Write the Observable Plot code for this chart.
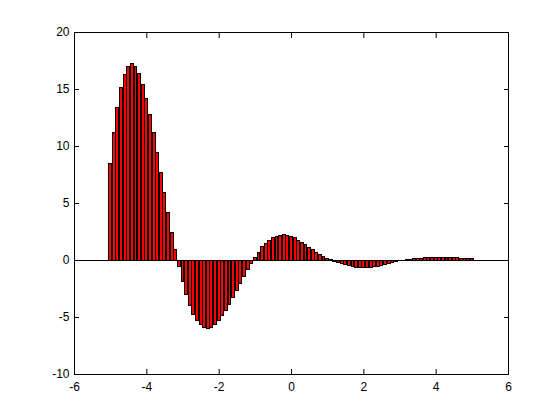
<!DOCTYPE html>
<html>
<head>
<meta charset="utf-8">
<script src="https://cdn.jsdelivr.net/npm/d3@7"></script>
<script src="https://cdn.jsdelivr.net/npm/@observablehq/plot@0.6"></script>
<style>
  html, body { margin: 0; padding: 0; background: #fff; }
  svg { display: block; }
</style>
</head>
<body>
<div id="chart"></div>
<script>
const xs = [
  -5.0, -4.9, -4.8, -4.7, -4.6, -4.5, -4.4, -4.3, -4.2, -4.1,
  -4.0, -3.9, -3.8, -3.7, -3.6, -3.5, -3.4, -3.3, -3.2, -3.1,
  -3.0, -2.9, -2.8, -2.7, -2.6, -2.5, -2.4, -2.3, -2.2, -2.1,
  -2.0, -1.9, -1.8, -1.7, -1.6, -1.5, -1.4, -1.3, -1.2, -1.1,
  -1.0, -0.9, -0.8, -0.7, -0.6, -0.5, -0.4, -0.3, -0.2, -0.1,
   0.0,  0.1,  0.2,  0.3,  0.4,  0.5,  0.6,  0.7,  0.8,  0.9,
   1.0,  1.1,  1.2,  1.3,  1.4,  1.5,  1.6,  1.7,  1.8,  1.9,
   2.0,  2.1,  2.2,  2.3,  2.4,  2.5,  2.6,  2.7,  2.8,  2.9,
   3.0,  3.1,  3.2,  3.3,  3.4,  3.5,  3.6,  3.7,  3.8,  3.9,
   4.0,  4.1,  4.2,  4.3,  4.4,  4.5,  4.6,  4.7,  4.8,  4.9,
   5.0
];
const values = [
  8.5, 11.2, 13.4, 15.15, 16.3, 17.0, 17.2, 17.0, 16.4, 15.4,
  14.2, 12.8, 11.2, 9.45, 7.7, 5.95, 4.2, 2.45, 0.9, -0.6,
  -1.9, -3.0, -4.0, -4.8, -5.3, -5.7, -5.9, -6.0, -5.9, -5.7,
  -5.35, -4.9, -4.4, -3.9, -3.3, -2.7, -2.05, -1.45, -0.85, -0.3,
  0.25, 0.7, 1.15, 1.48, 1.75, 1.93, 2.08, 2.16, 2.2, 2.16,
  2.05, 1.93, 1.75, 1.55, 1.35, 1.14, 0.91, 0.7, 0.5, 0.32,
  0.15, 0.03, -0.1, -0.21, -0.32, -0.42, -0.51, -0.58, -0.63, -0.67,
  -0.68, -0.67, -0.64, -0.59, -0.53, -0.46, -0.38, -0.3, -0.22, -0.15,
  -0.08, -0.03, 0.01, 0.05, 0.09, 0.13, 0.16, 0.19, 0.21, 0.23,
  0.24, 0.24, 0.24, 0.23, 0.22, 0.2, 0.18, 0.16, 0.14, 0.11,
  0.09
];
const xTicks = [-6, -4, -2, 0, 2, 4, 6];
const yTicks = [-10, -5, 0, 5, 10, 15, 20];

const step = 0.1;
const barFrac = 0.8;
const data = xs.map((x, i) => ({x, v: values[i]}));
const fmt = d => String(d);
const font = "Liberation Sans, Arial, Helvetica, sans-serif";

const chart = Plot.plot({
  width: 560,
  height: 420,
  marginLeft: 74,
  marginRight: 52,
  marginTop: 32,
  marginBottom: 46,
  style: {fontFamily: font, fontSize: "12px", color: "#000", background: "#fff"},
  x: {domain: [-6, 6], label: null},
  y: {domain: [-10, 20], label: null},
  marks: [
    Plot.rect(data, {
      x1: d => d.x - step * barFrac / 2,
      x2: d => d.x + step * barFrac / 2,
      y1: 0,
      y2: "v",
      fill: "#ff0000",
      stroke: "#000",
      strokeWidth: 1,
      shapeRendering: "crispEdges"
    }),
    Plot.ruleY([0], {stroke: "#000", strokeWidth: 1, shapeRendering: "crispEdges"}),
    Plot.axisX(xTicks, {anchor: "bottom", tickSize: 0, tickPadding: 8, tickFormat: fmt, label: null, fill: "#000"}),
    Plot.axisY(yTicks, {anchor: "left", tickSize: 0, tickPadding: 5, tickFormat: fmt, label: null, fill: "#000"}),
    Plot.axisX(xTicks, {anchor: "bottom", tickSize: 5, dy: -5, text: null, label: null, stroke: "#000"}),
    Plot.axisX(xTicks, {anchor: "top", tickSize: 5, dy: 5, text: null, label: null, stroke: "#000"}),
    Plot.axisY(yTicks, {anchor: "left", tickSize: 5, dx: 5, text: null, label: null, stroke: "#000"}),
    Plot.axisY(yTicks, {anchor: "right", tickSize: 5, dx: -5, text: null, label: null, stroke: "#000"}),
    Plot.frame({stroke: "#000", strokeWidth: 1, shapeRendering: "crispEdges"})
  ]
});
document.getElementById("chart").appendChild(chart);
</script>
</body>
</html>
